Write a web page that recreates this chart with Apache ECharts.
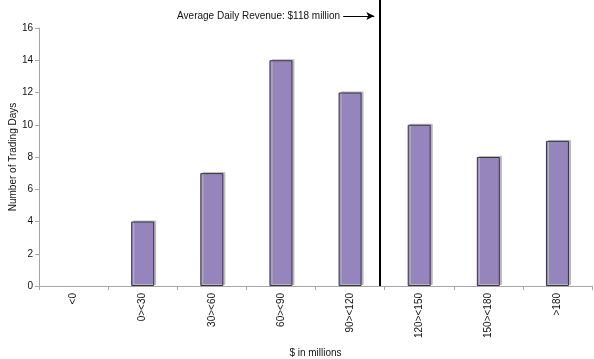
<!DOCTYPE html>
<html><head><meta charset="utf-8">
<script src="https://cdn.jsdelivr.net/npm/echarts@6/dist/echarts.min.js"></script>
<style>html,body{margin:0;padding:0;background:#fff}#c{width:594px;height:359px}</style>
</head><body><div id="c"></div>
<script>
const categories = ['<0','0><30','30><60','60><90','90><120','120><150','150><180','>180'];
const tradingDays = [0,4,7,14,12,10,8,9];
const yTicks = [0,2,4,6,8,10,12,14,16];
const averageRevenue = 118;
const binRange = [-30, 210];
const arrowStart = 102;
const annotation = 'Average Daily Revenue: $118 million';

const chart = echarts.init(document.getElementById('c'));
const font = 'Liberation Sans, Arial, sans-serif';
const barData = tradingDays.map(v => v === 0
  ? {value: v, itemStyle: {borderWidth: 0, color: 'transparent', shadowColor: 'transparent'}}
  : v);
chart.setOption({
  animation: false,
  grid: [
    {left: 39, right: 2, top: 28, bottom: 73, outerBoundsMode: 'none', containLabel: false},
    {left: 39, right: 2, top: 0, bottom: 73, outerBoundsMode: 'none', containLabel: false}
  ],
  xAxis: [
    {type: 'category', gridIndex: 0, data: categories,
     axisLine: {lineStyle: {color: '#a6a6a6', width: 1}},
     axisTick: {show: true, length: 4, lineStyle: {color: '#a6a6a6'}},
     axisLabel: {rotate: 90, fontFamily: font, fontSize: 10, color: '#111', margin: 7},
     name: '$ in millions', nameLocation: 'middle', nameGap: 62, nameMoveOverlap: false,
     nameTextStyle: {fontFamily: font, fontSize: 10, color: '#111'}},
    {type: 'value', gridIndex: 1, min: binRange[0], max: binRange[1], show: false}
  ],
  yAxis: [
    {type: 'value', gridIndex: 0, min: yTicks[0], max: yTicks[yTicks.length-1], interval: 2,
     splitLine: {show: false},
     axisLine: {show: true, lineStyle: {color: '#a6a6a6'}},
     axisTick: {show: true, length: 4, lineStyle: {color: '#a6a6a6'}},
     axisLabel: {fontFamily: font, fontSize: 10, color: '#111', margin: 6},
     name: 'Number of Trading Days', nameLocation: 'middle', nameGap: 21, nameMoveOverlap: false,
     nameTextStyle: {fontFamily: font, fontSize: 10, color: '#111'}},
    {type: 'value', gridIndex: 1, min: 0, max: 1, show: false}
  ],
  series: [
    {type: 'bar', xAxisIndex: 0, yAxisIndex: 0, data: barData, barWidth: 23,
     itemStyle: {color: '#9684bd', borderColor: '#3a3050', borderWidth: 1,
       shadowColor: '#b8b8b8', shadowOffsetX: 2, shadowOffsetY: -1, shadowBlur: 0}},
    {type: 'line', xAxisIndex: 1, yAxisIndex: 1, symbol: 'none',
     data: [[averageRevenue, 0], [averageRevenue, 1]],
     lineStyle: {color: '#000', width: 2},
     markLine: {silent: true, symbol: ['none', 'arrow'], symbolSize: [6, 8],
       lineStyle: {color: '#000', width: 1, type: 'solid'},
       label: {show: true, position: 'start', formatter: annotation, fontFamily: font, fontSize: 10, color: '#111', distance: 3},
       data: [[{coord: [arrowStart, 0.944]}, {coord: [averageRevenue - 2.5, 0.944]}]]}}
  ]
});
</script></body></html>
